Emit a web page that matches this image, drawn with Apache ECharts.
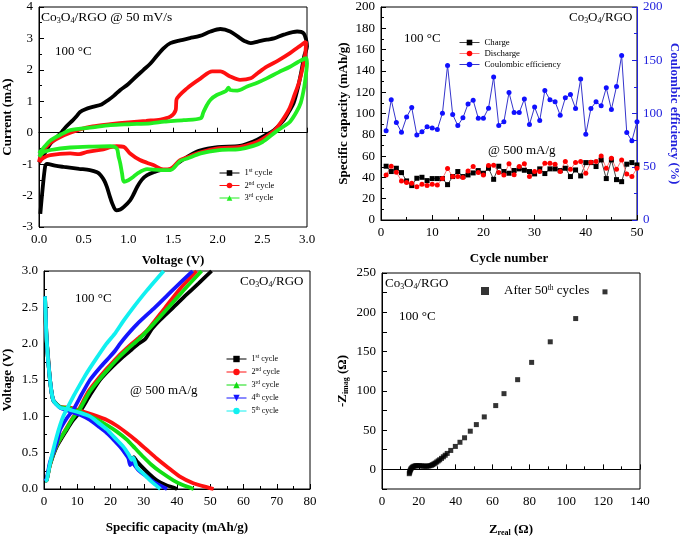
<!DOCTYPE html>
<html><head><meta charset="utf-8">
<script src="https://cdn.jsdelivr.net/npm/echarts@6.0.0/dist/echarts.min.js"></script>
<style>html,body{margin:0;padding:0;background:#fff}#c{width:685px;height:540px}</style>
</head><body><div id="c"></div><script>
const SERIF = '"Liberation Serif","Times New Roman",serif';
const BLUE = '#2222dd';

// ---------- Panel (a): CV, [voltage V, current mA] ----------
const cvCycle1 = [[0.015,-2.58],[0.04,-1.8],[0.07,-1.05],[0.09,-0.99],[0.18,-1.05],[0.28,-1.09],[0.45,-1.15],[0.57,-1.19],[0.65,-1.26],[0.69,-1.35],[0.73,-1.52],[0.76,-1.72],[0.79,-2.0],[0.82,-2.25],[0.865,-2.47],[0.91,-2.44],[0.95,-2.36],[1.02,-2.15],[1.06,-1.95],[1.10,-1.72],[1.15,-1.5],[1.21,-1.35],[1.30,-1.24],[1.36,-1.19],[1.47,-1.17],[1.55,-0.98],[1.66,-0.77],[1.80,-0.57],[2.00,-0.46],[2.25,-0.42],[2.40,-0.28],[2.52,-0.10],[2.63,0.08],[2.74,0.40],[2.80,0.68],[2.85,0.94],[2.90,1.45],[2.94,2.0],[2.97,2.45],[3.0,2.74],[2.99,2.96],[2.96,3.17],[2.89,3.22],[2.74,3.12],[2.63,3.0],[2.55,2.96],[2.45,2.9],[2.37,2.85],[2.30,2.92],[2.25,3.01],[2.14,3.22],[2.03,3.30],[1.92,3.22],[1.80,3.08],[1.69,3.01],[1.58,2.94],[1.47,2.85],[1.40,2.70],[1.32,2.45],[1.25,2.21],[1.17,2.0],[1.10,1.82],[1.00,1.55],[0.91,1.36],[0.84,1.18],[0.78,1.05],[0.70,0.90],[0.60,0.82],[0.52,0.75],[0.46,0.66],[0.42,0.52],[0.38,0.40],[0.30,0.18],[0.24,-0.02],[0.18,-0.20],[0.13,-0.34],[0.07,-0.62],[0.03,-0.82],[0.0,-0.95]];
const cvCycle2 = [[0.0,-0.93],[0.05,-0.80],[0.127,-0.71],[0.35,-0.66],[0.45,-0.68],[0.54,-0.61],[0.72,-0.53],[0.80,-0.46],[0.87,-0.43],[0.95,-0.45],[1.02,-0.66],[1.13,-0.87],[1.28,-1.03],[1.39,-1.17],[1.47,-1.15],[1.58,-0.87],[1.66,-0.78],[1.81,-0.62],[2.00,-0.50],[2.25,-0.45],[2.40,-0.34],[2.50,-0.20],[2.63,0.06],[2.72,0.38],[2.80,0.75],[2.86,1.20],[2.91,1.60],[2.95,2.05],[2.98,2.50],[2.99,2.90],[2.90,2.72],[2.81,2.53],[2.68,2.30],[2.55,2.10],[2.45,1.90],[2.37,1.73],[2.25,1.68],[2.14,1.79],[2.03,1.95],[1.94,1.95],[1.81,1.73],[1.66,1.42],[1.54,1.06],[1.535,0.90],[1.53,0.72],[1.47,0.51],[1.36,0.42],[1.20,0.38],[1.00,0.33],[0.80,0.27],[0.60,0.20],[0.45,0.10],[0.35,0.0],[0.25,-0.12],[0.15,-0.28],[0.08,-0.45],[0.03,-0.65],[0.0,-0.93]];
const cvCycle3 = [[0.0,-0.77],[0.05,-0.62],[0.13,-0.55],[0.35,-0.47],[0.60,-0.44],[0.80,-0.43],[0.87,-0.50],[0.89,-0.75],[0.91,-0.98],[0.93,-1.30],[0.95,-1.56],[1.00,-1.51],[1.05,-1.42],[1.10,-1.30],[1.21,-1.16],[1.36,-1.19],[1.47,-1.19],[1.58,-0.90],[1.66,-0.82],[1.81,-0.66],[2.00,-0.56],[2.25,-0.52],[2.40,-0.42],[2.50,-0.30],[2.66,0.05],[2.75,0.22],[2.81,0.35],[2.88,0.65],[2.93,0.95],[2.97,1.47],[2.99,1.90],[3.0,2.20],[2.99,2.37],[2.90,2.25],[2.81,2.10],[2.68,1.92],[2.55,1.73],[2.45,1.60],[2.33,1.47],[2.22,1.34],[2.14,1.36],[2.12,1.43],[2.09,1.32],[1.99,1.20],[1.92,1.05],[1.88,0.88],[1.84,0.65],[1.81,0.46],[1.62,0.40],[1.40,0.35],[1.25,0.30],[1.00,0.27],[0.80,0.24],[0.60,0.17],[0.35,0.08],[0.25,-0.05],[0.13,-0.24],[0.06,-0.45],[0.0,-0.66]];
const cvLegendText = ['1{sup|st} cycle','2{sup|nd} cycle','3{sup|rd} cycle'];

// ---------- Panel (b): cycling ----------
const cycleNumbers = [1,2,3,4,5,6,7,8,9,10,11,12,13,14,15,16,17,18,19,20,21,22,23,24,25,26,27,28,29,30,31,32,33,34,35,36,37,38,39,40,41,42,43,44,45,46,47,48,49,50];
const chargeCap = [50.5,45.5,48.6,44.5,36.7,32.3,39.2,40.1,37,38.9,38.9,38.9,33.2,40.8,45.5,40.8,42.3,44.2,46.4,43.9,48.6,38.2,50.5,45.5,43.9,46.5,48,46.7,45.5,43.3,48,43.6,48,48,46.4,48.6,40.8,47,41.4,53.9,53.9,50.2,56.4,38.9,56.4,37.9,36,52.4,53.9,51.7];
const dischargeCap = [42.3,50.5,44.8,36.7,35.1,34.5,31.3,33.5,32.3,33.5,32.9,38.9,48.3,40.8,40.8,39.8,46.1,50.2,44.5,42.3,51.1,51.4,44.5,42.3,52.7,42.6,50.2,52.7,40.8,45.5,45.5,53.3,53.3,52.4,45.5,54.9,47.6,53.9,54.9,43.9,54.2,54.9,60.2,48.6,58,47.6,56.4,43.3,40.8,48.6];
const coulombicEff = [83.7,112.9,91.5,82.4,96.6,105.6,79.9,82.8,87.5,86.5,85,100.3,145.1,99,88.7,95.9,109,112.5,95.6,95.6,105,134.2,88.7,92.2,119.7,100.9,100.9,113.5,89.7,106,93.4,121.6,112.9,111,98.4,114.7,117.9,104.7,132.3,80.6,104.7,111,107.2,124.1,103.8,125.4,154.5,82.1,74.3,92.2];

// ---------- Panel (c): charge/discharge, [capacity mAh/g, voltage V] ----------
const gcdDischarge1 = [[0.3,2.65],[0.5,2.3],[0.8,2.05],[1.3,1.78],[1.8,1.5],[2.3,1.32],[2.8,1.22],[4.8,1.13],[7.8,1.10],[10.8,1.05],[13.8,0.97],[17.8,0.84],[21.9,0.66],[24.9,0.50],[26.6,0.40],[27.0,0.44],[27.9,0.38],[30.9,0.24],[33.9,0.12],[36.9,0.05],[38.9,0.02],[40,0]];
const gcdDischarge2 = [[0.3,2.65],[0.8,2.05],[1.8,1.5],[2.8,1.22],[4.8,1.13],[7.8,1.12],[10.8,1.08],[14.8,1.02],[18.9,0.95],[21.9,0.87],[24.9,0.77],[27.9,0.66],[30.9,0.54],[33.9,0.42],[36.9,0.31],[40.9,0.17],[44.9,0.08],[48.9,0.025],[51,0]];
const gcdDischarge3 = [[0.3,2.65],[0.8,2.05],[1.8,1.5],[2.8,1.22],[4.8,1.13],[7.8,1.11],[10.8,1.06],[14.8,0.98],[18.9,0.88],[21.9,0.79],[24.9,0.68],[27.4,0.56],[29.9,0.44],[32.4,0.33],[34.9,0.24],[38.9,0.12],[41.9,0.05],[45,0]];
const gcdDischarge4 = [[0.3,2.65],[0.8,2.05],[1.8,1.5],[2.8,1.22],[4.8,1.12],[7.8,1.07],[10.8,1.02],[13.8,0.95],[16.4,0.86],[18.9,0.77],[20.9,0.68],[22.9,0.58],[24.4,0.49],[25.4,0.42],[25.9,0.33],[26.5,0.36],[28.4,0.26],[30.9,0.17],[32.9,0.10],[34.9,0.05],[37,0]];
const gcdDischarge5 = [[0.3,2.65],[0.8,2.05],[1.8,1.5],[2.8,1.22],[4.8,1.12],[7.8,1.09],[10.8,1.05],[13.8,1.0],[16.4,0.91],[18.9,0.82],[21.4,0.70],[23.9,0.58],[25.4,0.48],[26.4,0.40],[26.9,0.43],[27.9,0.30],[29.9,0.21],[31.9,0.12],[33.4,0.06],[35,0]];
const gcdCharge1 = [[0.3,0.11],[0.8,0.12],[1.8,0.33],[3.8,0.58],[6.8,0.81],[8.8,0.95],[10.8,1.06],[13.8,1.29],[16.8,1.5],[20.5,1.68],[23.5,1.81],[26.4,1.92],[28.4,2.0],[30.4,2.06],[32.4,2.2],[35.0,2.33],[38.9,2.5],[42.5,2.66],[46.5,2.83],[50.4,3.0]];
const gcdCharge2 = [[0.3,0.11],[0.8,0.12],[1.8,0.34],[3.8,0.6],[6.8,0.84],[8.8,0.99],[10.8,1.12],[13.2,1.33],[16.0,1.5],[19,1.66],[22,1.81],[24.5,1.92],[26.4,2.0],[28.5,2.08],[31,2.18],[36.5,2.5],[41,2.76],[45.9,3.0]];
const gcdCharge3 = [[0.3,0.11],[0.8,0.12],[1.8,0.34],[3.8,0.6],[6.8,0.83],[8.8,0.98],[10.8,1.1],[13.6,1.33],[16.5,1.5],[19.5,1.66],[22.5,1.81],[25,1.92],[27,2.0],[29,2.08],[31.5,2.2],[37.5,2.5],[42.5,2.76],[47.4,3.0]];
const gcdCharge4 = [[0.3,0.11],[0.8,0.14],[1.8,0.37],[3.8,0.63],[4.8,0.81],[6.8,0.97],[8.8,1.09],[11.3,1.3],[13.8,1.5],[16.8,1.67],[19.8,1.82],[21.5,1.91],[22.9,2.0],[25,2.12],[28,2.27],[33.4,2.5],[39,2.75],[44.7,3.0]];
const gcdCharge5 = [[0.3,0.11],[0.8,0.12],[1.8,0.35],[3.8,0.72],[5.8,1.0],[8.8,1.27],[11.0,1.45],[12.5,1.57],[15.5,1.78],[18.8,2.0],[21.5,2.15],[24,2.32],[26.9,2.5],[30.9,2.73],[36,3.0]];
const gcdLegendText = ['1{sup|st} cycle','2{sup|nd} cycle','3{sup|rd} cycle','4{sup|th} cycle','5{sup|th} cycle'];

// ---------- Panel (d): EIS ----------
const zReal = [14.8,15.0,15.2,15.5,15.8,16.3,16.8,17.4,18.1,18.8,19.6,20.5,21.5,22.4,23.3,24.2,25.1,26.0,26.8,27.5,28.2,28.9,29.7,30.5,31.3,32.3,33.3,34.3,35.4,37.3,39.8,42.3,44.8,47.9,51.2,55.5,61.7,66.2,73.6,81.2,91.3,105.1,121.0];
const zImag = [-5.5,-3.8,-2.0,-0.5,1.0,2.4,3.3,4.0,4.5,4.7,4.7,4.6,4.4,4.2,4.1,4.1,4.2,4.6,5.2,6.0,7.0,8.0,9.4,10.8,12.2,14.0,16.0,18.0,20.3,24.1,29.2,34.5,40.2,48.6,57.0,66.8,81.2,96.4,114.2,136.2,162.4,192,226];

const supRich = {fontFamily: SERIF, fontSize: 5.5, padding: [0,0,4,0]};
const TICK_FONT = 13;
function baseAxis(gi, o) {
  return Object.assign({
    type: 'value', gridIndex: gi,
    axisLine: {show: true, lineStyle: {color: '#000', width: 1}},
    axisTick: {show: true, inside: true, length: 5, lineStyle: {color: '#000'}},
    minorTick: {show: true, splitNumber: 2, length: 3, lineStyle: {color: '#000'}},
    splitLine: {show: false},
    axisLabel: {color: '#000', fontFamily: SERIF, fontSize: TICK_FONT, margin: 6},
    nameLocation: 'middle',
    nameTextStyle: {color: '#000', fontFamily: SERIF, fontSize: 13, fontWeight: 'bold'}
  }, o);
}
function txt(left, top, text, size) {
  return {type: 'text', left: left, top: top, z: 100,
    style: {text: text, fill: '#000', fontFamily: SERIF, fontSize: size,
      rich: {s: {fontFamily: SERIF, fontSize: size * 0.6, padding: [size * 0.55, 0, 0, 0]}}}};
}

const series = [];
const cvColors = ['#000000', '#ff1010', '#22ee22'];
const cvSymbols = ['rect', 'circle', 'triangle'];
[cvCycle1, cvCycle2, cvCycle3].forEach((d, i) => {
  series.push({type: 'line', name: 'cv' + (i + 1), xAxisIndex: 0, yAxisIndex: 0, data: d,
    symbol: cvSymbols[i], showSymbol: false, smooth: 0.3, color: cvColors[i],
    lineStyle: {width: 3.8, color: cvColors[i]}, itemStyle: {color: cvColors[i]}});
});
series.push({type: 'line', name: 'Charge', xAxisIndex: 1, yAxisIndex: 1,
  data: cycleNumbers.map((c, i) => [c, chargeCap[i]]), symbol: 'rect', symbolSize: 5,
  lineStyle: {width: 1, color: '#444'}, itemStyle: {color: '#000'}});
series.push({type: 'line', name: 'Discharge', xAxisIndex: 1, yAxisIndex: 1,
  data: cycleNumbers.map((c, i) => [c, dischargeCap[i]]), symbol: 'circle', symbolSize: 5,
  lineStyle: {width: 1, color: '#ff7777'}, itemStyle: {color: '#ff0000'}});
series.push({type: 'line', name: 'Coulombic efficiency', xAxisIndex: 1, yAxisIndex: 2,
  data: cycleNumbers.map((c, i) => [c, coulombicEff[i]]), symbol: 'circle', symbolSize: 5,
  lineStyle: {width: 1, color: '#3535cc'}, itemStyle: {color: '#1010ff'}});
const gcColors = ['#000000', '#ff1010', '#11dd11', '#1515ff', '#11f0f0'];
const gcSymbols = ['rect', 'circle', 'triangle', 'path://M0,0L10,0L5,9Z', 'circle'];
const gcDis = [gcdDischarge1, gcdDischarge2, gcdDischarge3, gcdDischarge4, gcdDischarge5];
const gcChg = [gcdCharge1, gcdCharge2, gcdCharge3, gcdCharge4, gcdCharge5];
for (let i = 0; i < 5; i++) {
  [gcDis[i], gcChg[i]].forEach(d => {
    series.push({type: 'line', name: 'gc' + (i + 1), xAxisIndex: 2, yAxisIndex: 3, data: d,
      symbol: gcSymbols[i], showSymbol: false, smooth: 0.2, color: gcColors[i],
      lineStyle: {width: 3.8, color: gcColors[i]}, itemStyle: {color: gcColors[i]}});
  });
}
series.push({type: 'scatter', name: 'eis', xAxisIndex: 3, yAxisIndex: 4,
  data: zReal.map((x, i) => [x, zImag[i]]), symbol: 'rect', symbolSize: 5, itemStyle: {color: '#000'}});

const legendCommon = {orient: 'vertical', padding: 0, selectedMode: false, itemWidth: 20, itemHeight: 7,
  lineStyle: {width: 1}};
const option = {
  animation: false,
  backgroundColor: '#fff',
  grid: [
    {left: 38, top: 7, width: 269, height: 220, show: true, borderColor: '#000', borderWidth: 1},
    {left: 381, top: 7, width: 256, height: 213, show: true, borderColor: '#000', borderWidth: 1},
    {left: 44, top: 271, width: 266, height: 218, show: true, borderColor: '#000', borderWidth: 1},
    {left: 382, top: 273, width: 258, height: 216, show: true, borderColor: '#000', borderWidth: 1}
  ],
  xAxis: [
    baseAxis(0, {min: 0, max: 3, interval: 0.5, name: 'Voltage (V)', nameGap: 27,
      axisLabel: {color: '#000', fontFamily: SERIF, fontSize: TICK_FONT, margin: 6, formatter: v => v.toFixed(1)}}),
    baseAxis(1, {min: 0, max: 50, interval: 10, name: 'Cycle number', nameGap: 32}),
    baseAxis(2, {min: 0, max: 80, interval: 10, name: 'Specific capacity (mAh/g)', nameGap: 32}),
    baseAxis(3, {min: 0, max: 140, interval: 20, name: 'Z{sub|real} (Ω)', nameGap: 33,
      nameTextStyle: {color: '#000', fontFamily: SERIF, fontSize: 13, fontWeight: 'bold',
        rich: {sub: {fontFamily: SERIF, fontSize: 8, fontWeight: 'bold', padding: [7, 0, 0, 0]}}}})
  ],
  yAxis: [
    baseAxis(0, {min: -3, max: 4, interval: 1, name: 'Current (mA)', nameGap: 25}),
    baseAxis(1, {min: 0, max: 200, interval: 20, name: 'Specific capacity (mAh/g)', nameGap: 31}),
    baseAxis(1, {min: 0, max: 200, interval: 50, position: 'right', name: 'Coulombic efficiency (%)', nameGap: 31, nameRotate: -90,
      axisLine: {show: true, lineStyle: {color: BLUE, width: 1}},
      axisTick: {show: true, inside: true, length: 5, lineStyle: {color: BLUE}},
      minorTick: {show: true, splitNumber: 2, length: 3, lineStyle: {color: BLUE}},
      axisLabel: {color: BLUE, fontFamily: SERIF, fontSize: TICK_FONT, margin: 6},
      nameTextStyle: {color: BLUE, fontFamily: SERIF, fontSize: 13, fontWeight: 'bold'}}),
    baseAxis(2, {min: 0, max: 3, interval: 0.5, name: 'Voltage (V)', nameGap: 30,
      axisLabel: {color: '#000', fontFamily: SERIF, fontSize: TICK_FONT, margin: 6, formatter: v => v.toFixed(1)}}),
    baseAxis(3, {min: -25, max: 250, interval: 25, name: '-Z{sub|imag} (Ω)', nameGap: 32,
      minorTick: {show: false},
      axisLabel: {color: '#000', fontFamily: SERIF, fontSize: TICK_FONT, margin: 6, formatter: v => (v % 50 === 0 ? String(v) : '')},
      nameTextStyle: {color: '#000', fontFamily: SERIF, fontSize: 13, fontWeight: 'bold',
        rich: {sub: {fontFamily: SERIF, fontSize: 8, fontWeight: 'bold', padding: [7, 0, 0, 0]}}}})
  ],
  legend: [
    Object.assign({}, legendCommon, {data: ['cv1', 'cv2', 'cv3'], left: 219, top: 168, itemGap: 3,
      formatter: n => cvLegendText[+n.slice(2) - 1],
      textStyle: {fontFamily: SERIF, fontSize: 8.5, color: '#000', rich: {sup: supRich}}}),
    Object.assign({}, legendCommon, {data: ['Charge', 'Discharge', 'Coulombic efficiency'], left: 459, top: 38, itemGap: 2,
      textStyle: {fontFamily: SERIF, fontSize: 8.8, color: '#000'}}),
    Object.assign({}, legendCommon, {data: ['gc1', 'gc2', 'gc3', 'gc4', 'gc5'], left: 226, top: 354, itemGap: 4, itemHeight: 8,
      formatter: n => gcdLegendText[+n.slice(2) - 1],
      textStyle: {fontFamily: SERIF, fontSize: 8, color: '#000', rich: {sup: supRich}}}),
    {data: ['eis'], left: 481, top: 284, padding: 0, selectedMode: false, icon: 'rect', itemWidth: 8, itemHeight: 8,
      formatter: () => 'After 50{sup|th} cycles',
      textStyle: {fontFamily: SERIF, fontSize: 13, color: '#000', padding: [0, 0, 0, 10],
        rich: {sup: {fontFamily: SERIF, fontSize: 7.5, padding: [0, 0, 6, 0]}}}}
  ],
  graphic: [
    txt(41, 10, 'Co{s|3}O{s|4}/RGO @ 50 mV/s', 13.5),
    txt(55, 45, '100 °C', 13),
    txt(569, 11, 'Co{s|3}O{s|4}/RGO', 13),
    txt(404, 32, '100 °C', 13),
    txt(488, 144, '@ 500 mA/g', 13),
    txt(240, 275, 'Co{s|3}O{s|4}/RGO', 13),
    txt(75, 292, '100 °C', 13),
    txt(130, 384, '@ 500 mA/g', 13),
    txt(385, 277, 'Co{s|3}O{s|4}/RGO', 13),
    txt(399, 310, '100 °C', 13)
  ],
  series: series
};
const chart = echarts.init(document.getElementById('c'), null, {renderer: 'canvas'});
chart.setOption(option);
</script></body></html>
